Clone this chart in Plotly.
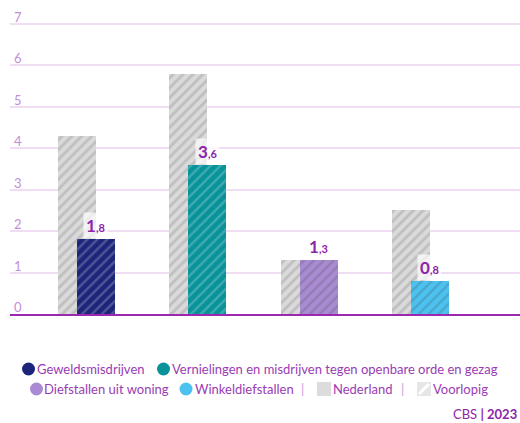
import plotly.graph_objects as go

categories = ["Geweldsmisdrijven", "Vernielingen en misdrijven tegen openbare orde en gezag",
              "Diefstallen uit woning", "Winkeldiefstallen"]
regio_values = [1.8, 3.6, 1.3, 0.8]
nederland_values = [4.3, 5.8, 1.3, 2.5]
regio_labels = [("1", ",8"), ("3", ",6"), ("1", ",3"), ("0", ",8")]
colors = ["#1c2579", "#08929a", "#a98bd3", "#4cc2f1"]
y_ticks = [0, 1, 2, 3, 4, 5, 6, 7]
y_tick_labels = ["0", "1", "2", "3", "4", "5", "6", "7"]

W, H = 520, 423
L, R, T, B = 10, 0, 0, 109
PW, PH = W - L - R, H - T - B

def px(x):  # page pixel -> paper
    return (x - L) / PW

def py(y):
    return (H - B - y) / PH

UNIT = 41.43
xpos = list(range(len(categories)))
bw = 0.341

fig = go.Figure()
fig.add_trace(go.Bar(
    x=xpos, y=nederland_values, width=bw, offset=-bw / 2,
    marker=dict(color="#dcdcdc", line=dict(width=0),
                pattern=dict(shape="/", fgcolor="#a3a3a3", bgcolor="#dadada",
                             size=7, solidity=0.4, fillmode="overlay")),
    showlegend=False, hoverinfo="skip"))
fig.add_trace(go.Bar(
    x=xpos, y=regio_values, width=bw, offset=0,
    marker=dict(color=colors, line=dict(width=0),
                pattern=dict(shape="/", fgcolor="#7a7a7a", fgopacity=0.22,
                             size=7, solidity=0.35)),
    showlegend=False, hoverinfo="skip"))

annotations = []
for v, t in zip(y_ticks, y_tick_labels):
    annotations.append(dict(
        x=px(12), y=v, xref="paper", yref="y", xanchor="left", yanchor="middle",
        yshift=7, text=t, showarrow=False,
        font=dict(family="Lato", size=13, color="#c08fd8")))

for i, (a, b) in enumerate(regio_labels):
    annotations.append(dict(
        x=xpos[i] + bw / 2, y=regio_values[i], xref="x", yref="y",
        xanchor="center", yanchor="bottom",
        text=f"<b>{a}</b><b><span style='font-size:11px'>{b}</span></b>",
        showarrow=False, font=dict(family="Lato", size=17, color="#8e24aa"),
        bgcolor="rgba(255,255,255,0.7)", borderpad=2))

legend_font = dict(family="Lato", size=13, color="#9a3cb4")
shapes = []

def circle(cx, cy, color, d=13):
    shapes.append(dict(type="circle", xref="paper", yref="paper",
                       xsizemode="pixel", ysizemode="pixel",
                       xanchor=px(cx), yanchor=py(cy),
                       x0=-d / 2, x1=d / 2, y0=-d / 2, y1=d / 2,
                       fillcolor=color, line=dict(width=0)))

def label(x, y, text, font=legend_font, anchor="left"):
    annotations.append(dict(x=px(x), y=py(y), xref="paper", yref="paper",
                            xanchor=anchor, yanchor="middle", text=text,
                            showarrow=False, font=font))

row1, row2 = 369, 389
circle(28.5, row1, colors[0]); label(35, row1, categories[0])
circle(163.5, row1, colors[1]); label(170, row1, categories[1])
circle(36.5, row2, colors[2]); label(42, row2, categories[2])
circle(186, row2, colors[3]); label(193, row2, categories[3])
label(299, row2, "|", font=dict(family="Lato", size=13, color="#c9a0dc"))
shapes.append(dict(type="rect", xref="paper", yref="paper",
                   x0=px(317), x1=px(331), y0=py(382), y1=py(396),
                   fillcolor="#dcdcdc", line=dict(width=0)))
label(331, row2, "Nederland")
label(399, row2, "|", font=dict(family="Lato", size=13, color="#c9a0dc"))
shapes.append(dict(type="rect", xref="paper", yref="paper",
                   x0=px(417), x1=px(431), y0=py(382), y1=py(396),
                   fillcolor="#e6e6e6", line=dict(width=0)))
shapes.append(dict(type="line", xref="paper", yref="paper",
                   x0=px(419), x1=px(429), y0=py(394), y1=py(384),
                   line=dict(color="#ffffff", width=3)))
label(431, row2, "Voorlopig")
label(519, 414, "CBS <b>| 2023</b>", font=dict(family="Lato", size=13, color="#8e24aa"),
      anchor="right")

fig.update_layout(
    width=W, height=H, margin=dict(l=L, r=R, t=T, b=B),
    paper_bgcolor="white", plot_bgcolor="white",
    barmode="overlay", bargap=0, showlegend=False,
    xaxis=dict(range=[-(77 - 10) / 111.3, (520 - 77) / 111.3], showticklabels=False,
               showgrid=False, zeroline=False, showline=True,
               linecolor="#9c27b0", linewidth=1.5, fixedrange=True),
    yaxis=dict(range=[0, PH / UNIT], tickvals=y_ticks, showticklabels=False,
               showgrid=True, gridcolor="#f0dcf3", gridwidth=1.5,
               zeroline=False, showline=False, ticks="", fixedrange=True),
    annotations=annotations, shapes=shapes,
)

fig.write_html("out.html", config={"displayModeBar": False},
               post_script="document.body.style.margin='0';"
                           "document.body.style.overflow='hidden';")
